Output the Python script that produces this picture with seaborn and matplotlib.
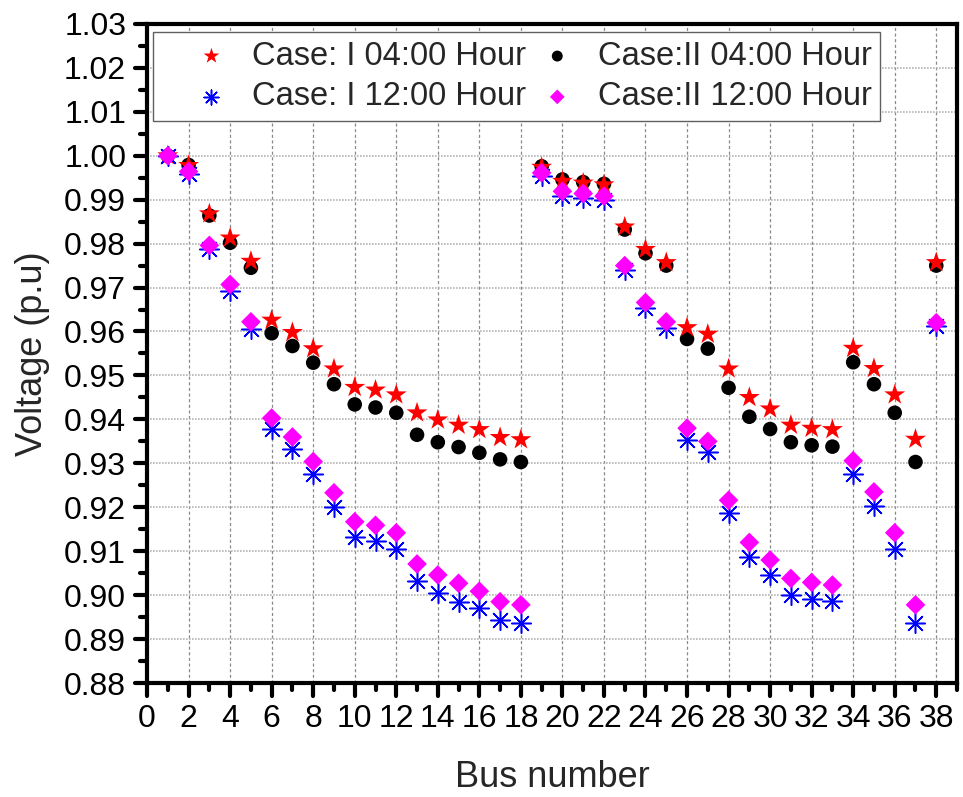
import numpy as np
import pandas as pd
import matplotlib
matplotlib.use("Agg")
import matplotlib.pyplot as plt
from matplotlib.markers import MarkerStyle
from matplotlib.ticker import MultipleLocator, FormatStrFormatter
import seaborn as sns

# Bus voltages (p.u.) for the 38-bus feeder
bus = list(range(1, 39))

case1_0400 = [1.0000, 0.9978, 0.9868, 0.9813, 0.9760, 0.9626, 0.9598, 0.9561, 0.9515, 0.9473,
              0.9467, 0.9456, 0.9415, 0.9399, 0.9387, 0.9377, 0.9359, 0.9354, 0.9974, 0.9942,
              0.9938, 0.9934, 0.9838, 0.9787, 0.9757, 0.9609, 0.9594, 0.9515, 0.9450, 0.9424,
              0.9387, 0.9380, 0.9377, 0.9562, 0.9516, 0.9456, 0.9355, 0.9757]

case2_0400 = [1.0000, 0.9979, 0.9864, 0.9802, 0.9745, 0.9596, 0.9567, 0.9529, 0.9480, 0.9434,
              0.9427, 0.9415, 0.9365, 0.9348, 0.9337, 0.9324, 0.9309, 0.9303, 0.9976, 0.9946,
              0.9940, 0.9936, 0.9832, 0.9778, 0.9750, 0.9583, 0.9561, 0.9472, 0.9406, 0.9378,
              0.9348, 0.9341, 0.9338, 0.9530, 0.9480, 0.9415, 0.9303, 0.9750]

case1_1200 = [1.0000, 0.9958, 0.9787, 0.9692, 0.9605, 0.9377, 0.9333, 0.9276, 0.9201, 0.9133,
              0.9123, 0.9106, 0.9032, 0.9004, 0.8985, 0.8970, 0.8944, 0.8936, 0.9953, 0.9908,
              0.9904, 0.9899, 0.9741, 0.9654, 0.9609, 0.9354, 0.9326, 0.9186, 0.9087, 0.9046,
              0.9000, 0.8991, 0.8987, 0.9276, 0.9203, 0.9106, 0.8936, 0.9613]

case2_1200 = [1.0000, 0.9964, 0.9796, 0.9707, 0.9622, 0.9403, 0.9360, 0.9304, 0.9233, 0.9167,
              0.9159, 0.9142, 0.9071, 0.9046, 0.9027, 0.9009, 0.8985, 0.8978, 0.9961, 0.9919,
              0.9914, 0.9908, 0.9750, 0.9666, 0.9622, 0.9380, 0.9350, 0.9216, 0.9120, 0.9080,
              0.9038, 0.9029, 0.9023, 0.9306, 0.9235, 0.9142, 0.8978, 0.9620]

labels = ["Case: I 04:00 Hour", "Case: I 12:00 Hour", "Case:II 04:00 Hour", "Case:II 12:00 Hour"]

df = pd.DataFrame({
    "bus": bus,
    labels[0]: case1_0400,
    labels[1]: case1_1200,
    labels[2]: case2_0400,
    labels[3]: case2_1200,
})

sns.set_style("white")
plt.rcParams["font.family"] = ["Liberation Sans", "DejaVu Sans"]

fig = plt.figure(figsize=(9.63, 7.97), dpi=100)
ax = fig.add_axes([0.1527, 0.143, 0.8411, 0.827])

# drawing order: circles under stars, asterisks under diamonds
styles = {
    labels[2]: dict(marker="o", color="black", s=110, edgecolor="none"),
    labels[0]: dict(marker="*", color="red", s=250, edgecolor="none"),
    labels[1]: dict(marker=(8, 2, 0), color="blue", s=200, linewidth=1.1),
    labels[3]: dict(marker="D", color="magenta", s=100, edgecolor="none"),
}
handles = {}
for name, kw in styles.items():
    sns.scatterplot(data=df, x="bus", y=name, ax=ax, label=name, zorder=3, **kw)
    handles[name] = ax.collections[-1]

ax.set_xlim(0, 39)
ax.set_ylim(0.88, 1.03)
ax.xaxis.set_major_locator(MultipleLocator(2))
ax.xaxis.set_minor_locator(MultipleLocator(1))
ax.yaxis.set_major_locator(MultipleLocator(0.01))
ax.yaxis.set_minor_locator(MultipleLocator(0.005))
ax.yaxis.set_major_formatter(FormatStrFormatter("%.2f"))

ax.grid(False)
ax.xaxis.grid(True, which="major", color="#8a8a8a", linestyle=(0, (2.5, 2)), linewidth=0.9, zorder=0)
ax.yaxis.grid(True, which="major", color="#b4b4b4", linestyle=(0, (1, 0.8)), linewidth=1.2, zorder=0)
ax.set_axisbelow(True)

for sp in ax.spines.values():
    sp.set_linewidth(3.0)
    sp.set_color("black")

ax.tick_params(axis="both", which="major", direction="out", length=9, width=3,
               labelsize=23, color="black", labelcolor="black", pad=6,
               top=False, right=False, bottom=True, left=True)
ax.tick_params(axis="both", which="minor", direction="out", length=5, width=3,
               color="black", top=False, right=False, bottom=True, left=True)

# rounded tick ends
for axis in (ax.xaxis, ax.yaxis):
    for t in axis.get_major_ticks() + axis.get_minor_ticks():
        ln = t.tick1line
        ln.set_marker(MarkerStyle(ln.get_marker(), capstyle="round"))

ax.set_xlabel("Bus number", fontsize=26, labelpad=19)
ax.set_ylabel("Voltage (p.u)", fontsize=26, labelpad=10)

order = [labels[0], labels[1], labels[2], labels[3]]
leg = ax.legend([handles[n] for n in order], order, ncol=2, loc="upper left",
                bbox_to_anchor=(0.007, 0.987), borderaxespad=0, fontsize=23.5,
                frameon=True, fancybox=False, framealpha=1, edgecolor="#606060",
                markerscale=0.75, handletextpad=-0.3, columnspacing=-0.6,
                labelspacing=0.3, borderpad=0.25, handlelength=3.1)
leg.get_frame().set_linewidth(1.0)

fig.savefig("out.png", dpi=100)
